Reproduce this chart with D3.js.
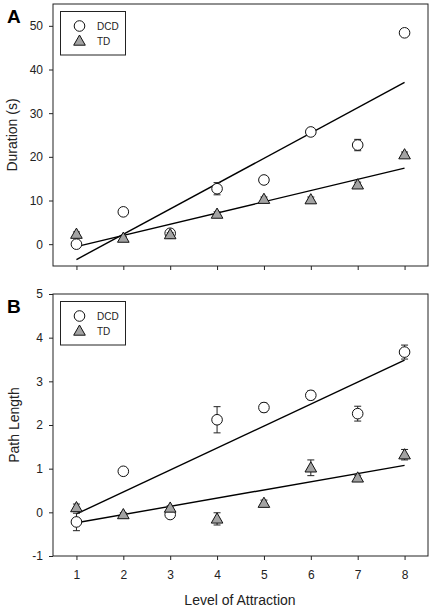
<!DOCTYPE html>
<html><head><meta charset="utf-8">
<script src="https://cdn.jsdelivr.net/npm/d3@7"></script>
<style>
html,body{margin:0;padding:0;background:#fff;}
svg{display:block;font-family:"Liberation Sans",Arial,sans-serif;}
</style></head>
<body><svg id="c" width="435" height="611"></svg>
<script>
// ---- data ----
const levels = [1, 2, 3, 4, 5, 6, 7, 8];
const seriesNames = ["DCD", "TD"];
const durationDCD = [0.0, 7.4, 2.5, 12.7, 14.7, 25.7, 22.7, 48.4];
const durationDCDErr = [0.8, 0.5, 0.6, 1.4, 0.6, 0.6, 1.3, 0.8];
const durationTD = [2.3, 1.4, 2.2, 6.9, 10.3, 10.2, 13.6, 20.5];
const durationTDErr = [0.5, 0.3, 0.4, 0.5, 0.5, 0.6, 0.6, 0.6];
const pathDCD = [-0.22, 0.94, -0.05, 2.12, 2.40, 2.68, 2.26, 3.67];
const pathDCDErr = [0.2, 0.05, 0.06, 0.30, 0.10, 0.10, 0.17, 0.16];
const pathTD = [0.11, -0.05, 0.10, -0.15, 0.21, 1.02, 0.79, 1.32];
const pathTDErr = [0.08, 0.04, 0.05, 0.14, 0.07, 0.18, 0.06, 0.12];
const durationTicks = [0, 10, 20, 30, 40, 50];
const pathTicks = [-1, 0, 1, 2, 3, 4, 5];
const xTicks = [1, 2, 3, 4, 5, 6, 7, 8];

const svg = d3.select("#c");
const x = d3.scaleLinear().domain([0.5, 8.5]).range([53, 428]);

function fit(xs, ys) {
  const mx = d3.mean(xs), my = d3.mean(ys);
  let sxy = 0, sxx = 0;
  xs.forEach((v, i) => { sxy += (v - mx) * (ys[i] - my); sxx += (v - mx) * (v - mx); });
  const b = sxy / sxx, a = my - b * mx;
  return v => a + b * v;
}

const triPath = "M0,-6L5.8,4.2L-5.8,4.2Z";

function marker(g, type, cx, cy) {
  if (type === 0) {
    g.append("circle").attr("cx", cx).attr("cy", cy).attr("r", 5.3)
      .attr("fill", "#fff").attr("stroke", "#111").attr("stroke-width", 1);
  } else {
    g.append("path").attr("d", triPath).attr("transform", `translate(${cx},${cy})`)
      .attr("fill", "#a3a3a3").attr("stroke", "#111").attr("stroke-width", 1);
  }
}

const plainFmt = d => String(d);

function panel(opt) {
  const y = d3.scaleLinear().domain(opt.domain).range([opt.bottom, opt.top]);
  const g = svg.append("g");
  // axes
  const ya = g.append("g").attr("transform", `translate(${x.range()[0]},0)`)
    .call(d3.axisLeft(y).tickValues(opt.ticks).tickSize(4).tickPadding(6).tickFormat(plainFmt));
  const xa = g.append("g").attr("transform", `translate(0,${opt.bottom})`)
    .call(d3.axisBottom(x).tickValues(xTicks).tickSize(4).tickPadding(10)
      .tickFormat(opt.xLabels ? plainFmt : () => ""));
  [ya, xa].forEach(a => {
    a.select(".domain").remove();
    a.selectAll("line").attr("stroke", "#222");
    a.selectAll("text").attr("font-size", 12).attr("fill", "#222")
      .attr("font-family", "'Liberation Sans',Arial,sans-serif");
  });
  // frame
  g.append("rect").attr("x", x.range()[0]).attr("y", opt.top)
    .attr("width", x.range()[1] - x.range()[0]).attr("height", opt.bottom - opt.top)
    .attr("fill", "none").attr("stroke", "#222").attr("stroke-width", 1);
  // regression lines
  opt.series.forEach(s => {
    const f = fit(levels, s.values);
    g.append("line").attr("x1", x(1)).attr("y1", y(f(1))).attr("x2", x(8)).attr("y2", y(f(8)))
      .attr("stroke", "#000").attr("stroke-width", 1.4);
  });
  // error bars + markers
  opt.series.forEach((s, si) => {
    levels.forEach((lv, i) => {
      const cx = x(lv), v = s.values[i], e = s.err[i];
      const eb = g.append("g").attr("stroke", "#222").attr("stroke-width", 1);
      eb.append("line").attr("x1", cx).attr("x2", cx).attr("y1", y(v - e)).attr("y2", y(v + e));
      eb.append("line").attr("x1", cx - 3.5).attr("x2", cx + 3.5).attr("y1", y(v + e)).attr("y2", y(v + e));
      eb.append("line").attr("x1", cx - 3.5).attr("x2", cx + 3.5).attr("y1", y(v - e)).attr("y2", y(v - e));
      marker(g, si, cx, y(v));
    });
  });
  // legend
  const lg = g.append("g");
  lg.append("rect").attr("x", 60.5).attr("y", opt.top + 7.5).attr("width", 65).attr("height", 43.5)
    .attr("fill", "#fff").attr("stroke", "#222").attr("stroke-width", 1);
  seriesNames.forEach((n, i) => {
    const ly = opt.top + 22 + i * 15;
    marker(lg, i, 79.5, ly);
    lg.append("text").attr("x", 97).attr("y", ly + 3.6).attr("font-size", 10).attr("fill", "#222").text(n);
  });
  // panel letter
  g.append("text").attr("x", 7).attr("y", opt.top + 18.5).attr("font-size", 19).attr("font-weight", "bold")
    .attr("fill", "#000").text(opt.letter);
  // y title
  g.append("text").attr("transform", `translate(${opt.ytx},${(opt.top + opt.bottom) / 2}) rotate(-90)`)
    .attr("text-anchor", "middle").attr("font-size", 14).attr("fill", "#222").text(opt.ytitle);
  return y;
}

panel({
  domain: [-5, 55], top: 4, bottom: 266, ticks: durationTicks, xLabels: false,
  letter: "A", ytitle: "Duration (s)", ytx: 17,
  series: [{ values: durationDCD, err: durationDCDErr }, { values: durationTD, err: durationTDErr }]
});
panel({
  domain: [-1, 5], top: 294, bottom: 556, ticks: pathTicks, xLabels: true,
  letter: "B", ytitle: "Path Length", ytx: 18.5,
  series: [{ values: pathDCD, err: pathDCDErr }, { values: pathTD, err: pathTDErr }]
});

svg.append("text").attr("x", 240).attr("y", 605).attr("text-anchor", "middle")
  .attr("font-size", 14).attr("fill", "#222").text("Level of Attraction");
</script>
</body></html>
